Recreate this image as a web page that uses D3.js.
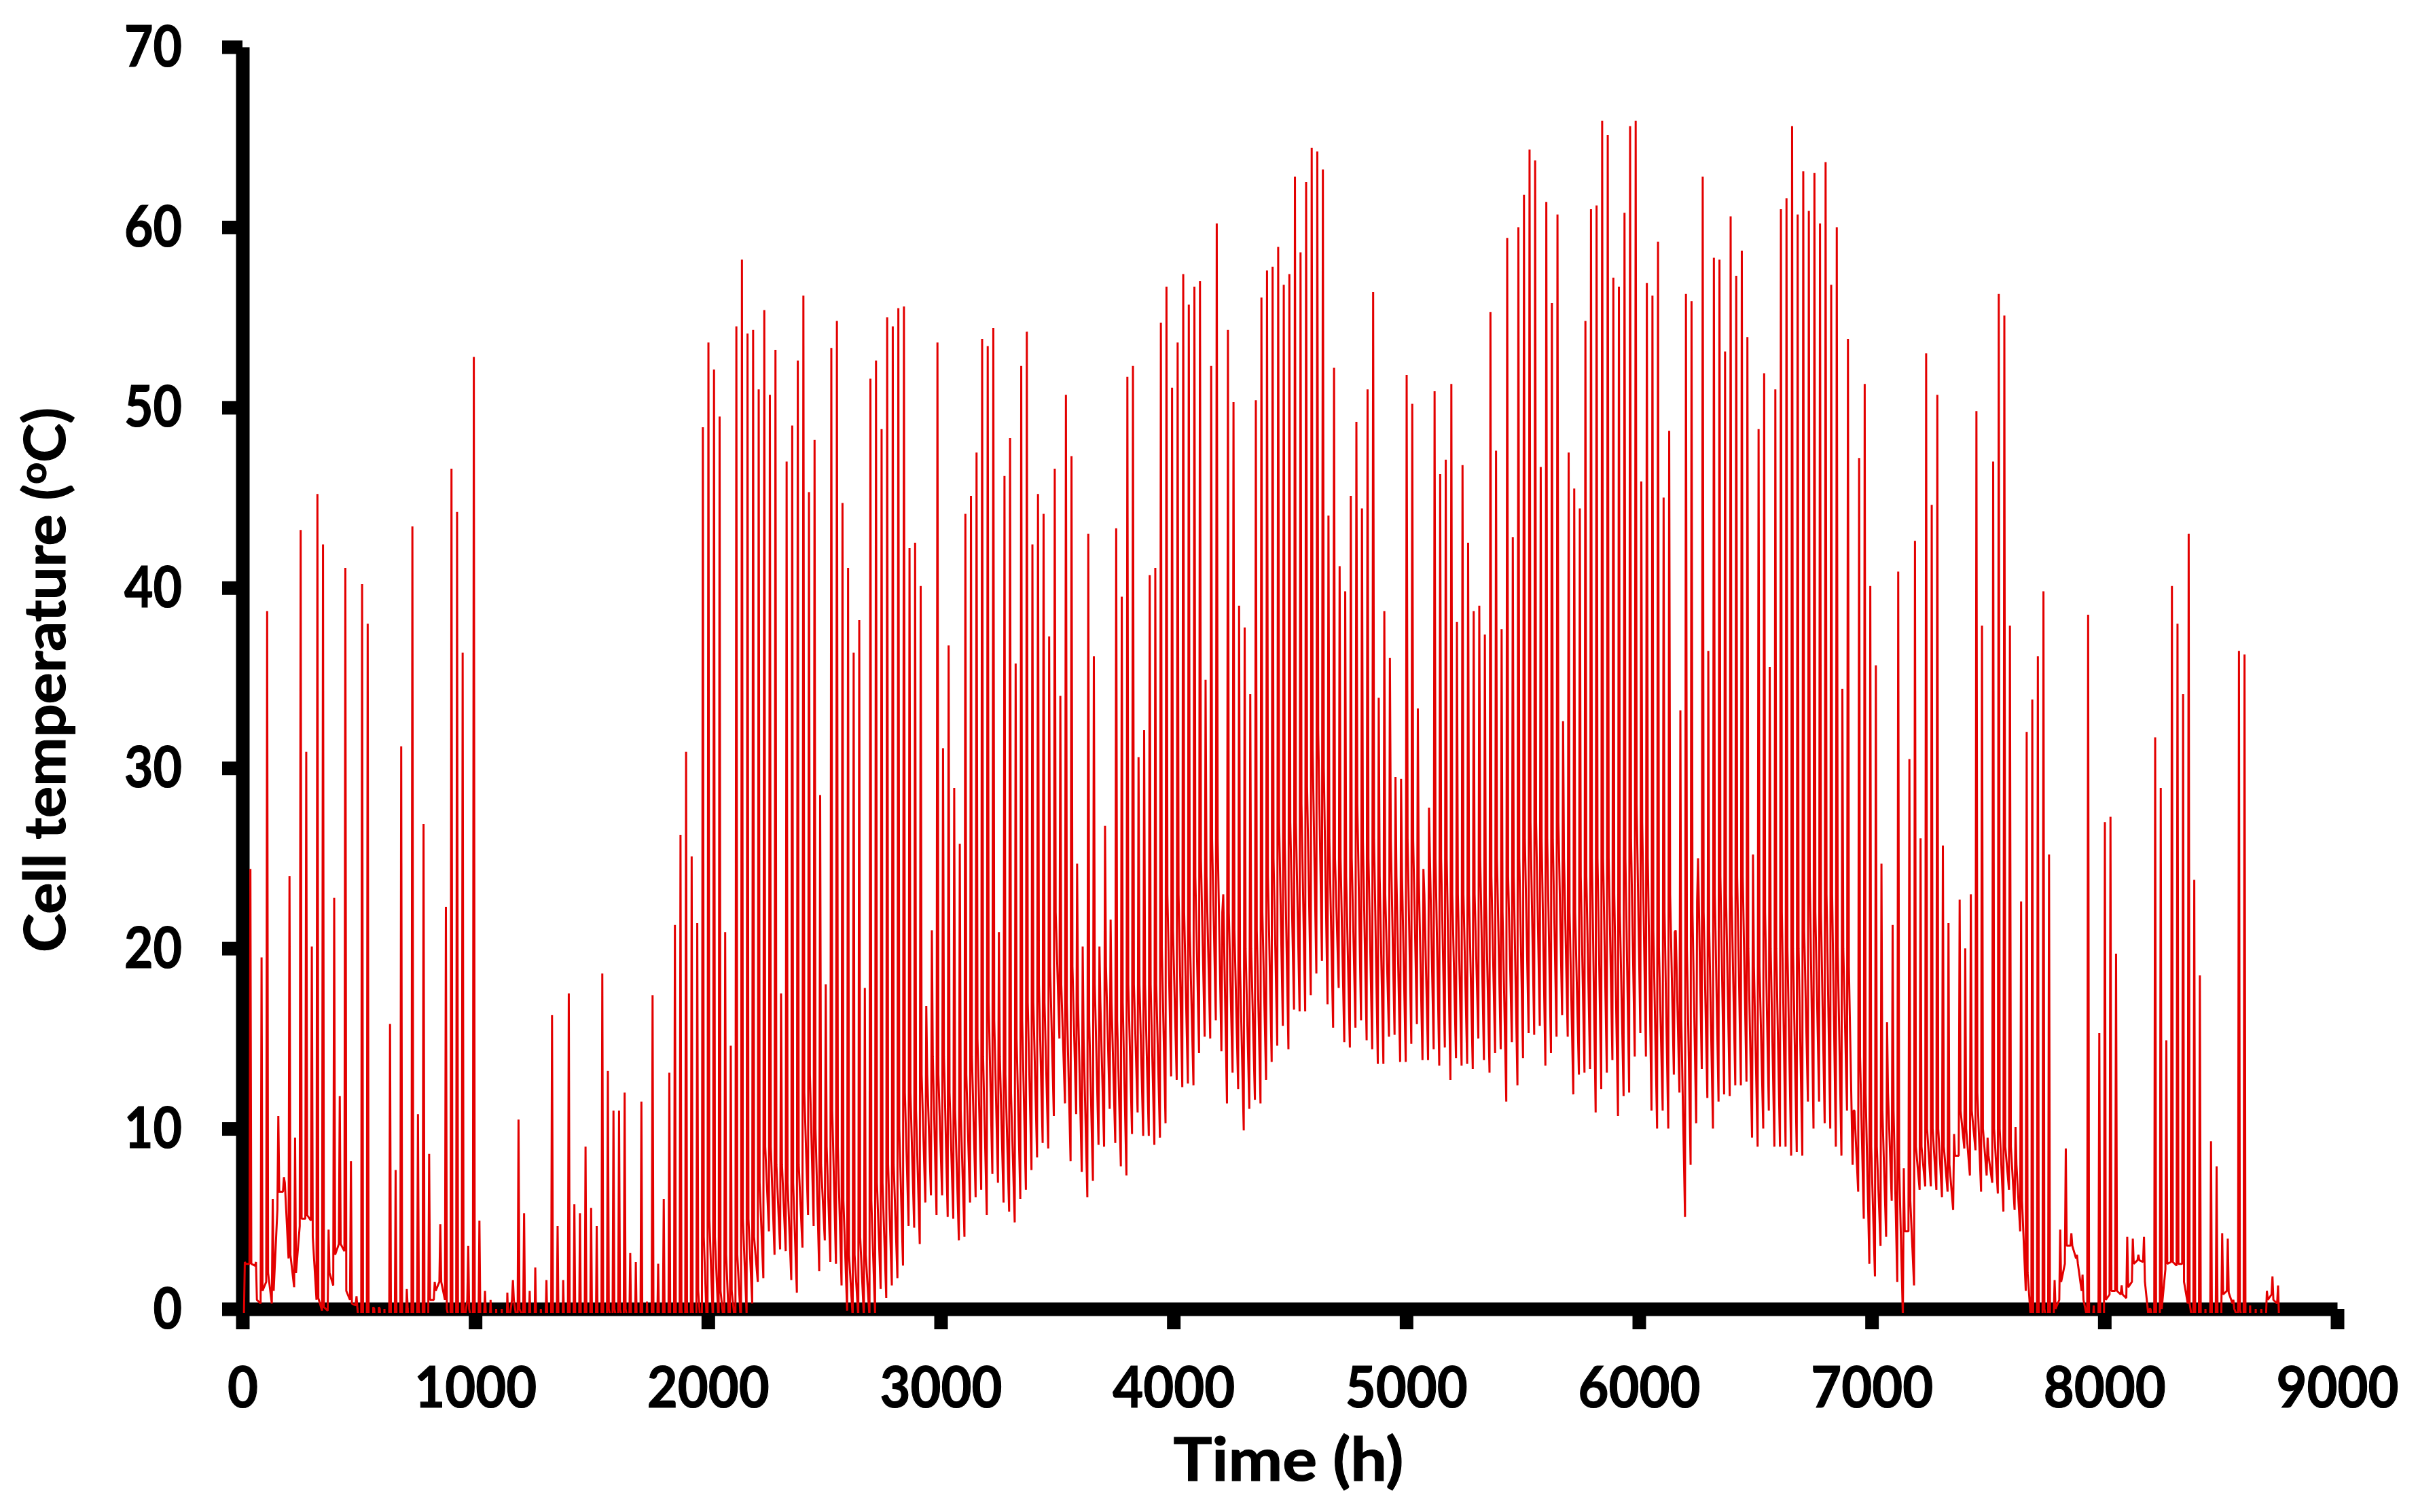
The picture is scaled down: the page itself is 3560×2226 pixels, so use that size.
<!DOCTYPE html>
<html>
<head>
<meta charset="utf-8">
<style>
html,body{margin:0;padding:0;background:#fff}
svg{display:block}
text{font-family:Lato,"Open Sans",sans-serif;font-weight:700;fill:#000;stroke:#000;stroke-width:1.2px}
</style>
<script src="https://cdn.jsdelivr.net/npm/d3@7/dist/d3.min.js"></script>
</head>
<body>
<svg id="chart" width="3560" height="2226"></svg>
<script>
// Daily maximum cell temperature, one value per day (day 0 = hour 0)
const dailyPeaks = [
2.6,24.4,2.6,19.5,38.7,6.1,10.7,7.3,24,9.5,
43.2,30.9,20.1,45.2,42.4,4.4,22.8,11.8,41.1,8.2,
.7,40.2,38,.1,.1,0,15.8,7.7,31.2,1.1,
43.4,10.8,26.9,8.6,1.5,4.7,22.3,46.6,44.2,36.4,
3.5,52.8,4.9,1,.5,0,0,.9,1.6,10.5,
5.3,1,2.3,0,1.6,16.3,4.6,1.6,17.5,5.8,
5.3,9,5.6,4.6,18.6,13.2,11,11,12,3.1,
2.6,11.5,.4,17.4,2.5,6.1,13.1,21.3,26.3,30.9,
25.1,21.4,48.9,53.6,52.1,49.5,20.9,14.6,54.5,58.2,
54.1,54.3,51,55.4,50.7,53.2,17.5,47,49,52.6,
56.2,45.3,48.2,28.5,18,53.3,54.8,44.7,41.1,36.4,
38.2,17.8,51.6,52.6,48.8,55,54.5,55.5,55.6,42.2,
42.5,40.1,16.8,21,53.6,31.1,36.8,28.9,25.8,44.1,
45.1,47.5,53.8,53.4,54.4,20.9,46.2,48.3,35.8,52.3,
54.2,42.4,45.2,44.1,37.3,46.6,34,50.7,47.3,24.7,
20.1,43,36.2,20.1,26.8,21.6,43.3,39.5,51.7,52.3,
30.6,32.1,40.7,41.1,54.7,56.7,51.1,53.6,57.4,55.7,
56.7,57,34.9,52.3,60.2,22,54.3,50.3,39,37.8,
34.1,50.4,56.1,57.6,57.8,58.9,56.8,57.4,62.8,58.6,
62.5,64.4,64.2,63.2,44,52.2,41.2,39.8,45.1,49.2,
44.4,51,56.4,33.9,38.7,36.1,29.5,29.4,51.8,50.2,
33.3,24.4,27.8,50.9,46.3,47.1,51.3,38.1,46.8,42.5,
38.7,39,37.4,55.3,47.6,37.7,59.4,42.8,60,61.8,
64.3,63.7,46.7,61.4,55.8,60.7,32.6,47.5,45.5,44.4,
54.8,61,61.2,65.9,65.1,57.2,56.7,60.8,65.6,65.9,
45.9,56.9,56.2,59.2,45,48.7,20.9,33.2,56.3,55.9,
22.6,62.8,36.5,58.3,58.2,53.1,60.6,57.3,58.7,53.9,
25.2,48.8,51.9,35.6,51,61,61.6,65.6,60.7,63.1,
60.9,63,60.2,63.6,56.8,60,34.4,53.8,11,47.2,
51.3,40.1,35.7,24.7,15.9,21.3,40.9,7.8,30.5,42.6,
26.1,53,44.6,50.7,25.7,21.4,9.7,22.7,20,23,
49.8,37.9,9.5,47,56.3,55.1,37.9,10.1,22.6,32,
33.8,36.2,39.8,25.2,1.6,4.4,8.9,4.2,3,1.9,
38.5,.2,15.3,27,27.3,19.7,1.3,4,3.9,3,
4,0,31.7,28.9,14.9,40.1,38,34.1,43,23.8,
18.5,0,9.3,7.9,4.2,3.9,.5,36.5,36.3,.2,
0,0,1,1.8,1.3];

// Pre-dawn minimum of each day, plus one closing value. Below zero the trace leaves the plot.
const dawnLows = [
-.5,2.5,2.4,.3,1.5,.3,5.5,6.5,2.8,1.2,
4.6,5,4.9,.5,-.1,-.1,1.3,3.6,3.2,.5,
.2,-2,-3,-4,-4,-5,-3,-2,-2,-1,
-2,-1,-2,-1,.5,1.5,.5,-1,-2,-2,
.5,-1,-1,-.5,-1,-3,-4,-2,.5,-1,
-.5,-1,-2,-3,-1,-2,-1,-2,-2,-2,
-2,-2,-1,-2,-2,-1,-1,-1,-1,-1,
-2,-1,-2,-2,-1,-1,-2,-2,-2,-3,
-3,-2,-2,-2,-1,-1,-1,-2,-1,-1,
-.3,.3,1.5,1.7,4.3,3,3.3,3.2,1.6,.9,
3.4,5.2,4.6,2.1,3.8,2.6,2.5,1.3,-.1,-.5,
-.5,-.5,-.5,-.3,1.1,.6,1.3,1.7,2.4,4.6,
4.5,3.6,5.9,6.3,5.2,6.3,5.1,5,3.8,4,
5.9,6.2,6.6,5.2,7.5,7,5.9,5.4,4.8,6.1,
6.6,7.7,8.4,9.2,8.9,10.7,15,11.4,8.2,10.8,
7.6,6.2,7.1,9.1,9,11.1,9.2,7.9,7.4,9.7,
10.9,9.6,9.6,9.1,9.5,10.3,12.9,12.7,12.3,12.5,
12.4,14.2,15.1,15,16,14.3,11.4,13.1,12.2,9.9,
11.1,11.6,11.4,12.7,13.7,14.6,15.7,14.4,16.6,16.5,
16.5,17.4,18.6,19.3,16.9,15.6,17.8,14.8,14.5,15.6,
16,14.9,14.4,13.6,13.6,15.1,15.2,13.7,13.7,14.7,
15.8,13.8,13.8,14.4,13.5,14.5,12.7,13.9,13.5,13.6,
13.3,15,13.8,13.1,14.2,14.4,11.5,14.8,12.4,13.9,
15.3,15.2,15.7,13.5,14.2,15.1,16.3,15.1,11.9,13,
13.1,13.3,10.9,12.2,13.1,13.8,10.7,11.8,12,14,
15.3,14,11,10,11,10,13,12,5.1,8,
10.3,13.3,11.7,10,11.5,11.9,11.8,12.4,12.4,12.6,
9.5,9,10,11,9,9,9,8.5,8.7,8.5,
11.5,10,11.5,10.3,10,9,8.5,11,8,6.5,
5,2.5,1.8,3.5,4,6,1.5,-.5,4.3,1.3,
6.6,6.8,6.8,6.6,6.2,6.5,5.5,8.5,8.9,7.4,
8.8,6.5,7.4,7,6.4,5.4,6.6,5.5,4.3,1,
-1,-2,-2,-1,-.5,.5,2.5,3.5,2.8,1,
-.5,-1,-2,-2,.8,1,.8,.6,1.5,2.7,
2.6,-.5,-1,-2,2.2,2.6,2.4,2.5,.3,-1,
-1,-2,-2,-1,-.5,1,.3,-.5,-1,-2,
-3,-3,-.5,.8,.3,-1];

// Level the trace drops to right after each day's peak
const duskLevels = [
2.5,2.5,.5,1,2,1,6.5,7,3,2,
5,5.2,4,.6,.1,2,3,3.6,1,.3,
0,-1,-1,0,0,-3,-1,-1,-1,0,
-1,0,-1,.5,1,1.5,0,-1,-1,-1,
0,-1,-.5,-.5,-1,-2,-2,-1,.5,0,
-.5,-1,-1,-1,-1,-1,-1,-1,-1,-1,
-1,-1,-1,-1,-1,0,0,0,0,-1,
-1,-1,-1,-1,-1,-1,-1,-1,0,0,
0,1,4,5,4,1,3,1,3,5,
5,4,7,9,9,8,8,7,7,8,
12,13,10,8,9,11,9,6,3,3,
4,3,6,7,7,8,8,10,12,12,
11,13,13,14,13,14,12,11,11,13,
14,15,14,17,16,14,13,12,15,16,
17,17,18,17,19,22,18,17,19,17,
15,16,18,17,19,17,16,17,18,18,
18,18,18,18,20,23,21,23,22,21,
24,25,24,26,26,23,22,21,19,20,
20,21,22,24,25,27,26,27,27,28,
29,31,32,30,26,25,25,24,25,28,
26,25,26,24,23,26,24,24,26,26,
24,23,25,25,25,25,23,23,23,23,
23,25,23,24,25,22,24,24,25,26,
27,27,26,26,26,27,25,22,22,24,
24,25,25,25,25,23,22,25,26,28,
27,25,21,20,22,23,21,16,20,22,
25,22,21,23,24,23,23,24,24,20,
19,19,22,20,20,22,20,20,20,21,
24,22,22,23,23,20,20,19,11,14,
12,9,9,11,12,11,8,4.3,6,9,
9,10,10,10,9,8,8.5,11,10,11,
12,10,8.5,10,10,9,9,8,6,2,
-1,-1,0,-.5,0,1.5,3.5,3.5,2.5,.5,
-.5,-1,-1,.5,1,1,.8,1.2,2.5,2.7,
1.5,0,-1,0,2.5,2.6,2.5,1.5,.3,-.5,
-1,-2,-1,-.5,.8,.9,0,0,-1,-2,
-2,-2,.5,.5,-.5];

const xTicks = [0,1000,2000,3000,4000,5000,6000,7000,8000,9000];
const yTicks = [0,10,20,30,40,50,60,70];
const xTitle = "Time (h)";
const yTitleParts = ["Cell temperature (", "o", "C)"];

if (dailyPeaks.length !== 365 || duskLevels.length !== 365 || dawnLows.length !== 366) {
  throw new Error("lengths " + dailyPeaks.length + " " + duskLevels.length + " " + dawnLows.length);
}

const HOURS_DAWN = 6, HOURS_PEAK = 10, HOURS_DUSK = 14;
const trace = dailyPeaks.flatMap((p, d) => [
  {h: d * 24 + HOURS_DAWN, t: dawnLows[d]},
  {h: d * 24 + HOURS_PEAK, t: p},
  {h: d * 24 + HOURS_DUSK, t: duskLevels[d]}
]);
trace.push({h: 8760, t: dawnLows[365]});

const x = d3.scaleLinear().domain([0, 9000]).range([357, 3441]);
const y = d3.scaleLinear().domain([0, 70]).range([1927, 69]);
const svg = d3.select("#chart");

svg.append("defs").append("clipPath").attr("id", "plot")
  .append("rect").attr("x", 357).attr("y", 60).attr("width", 3084).attr("height", 1873);

const gy = svg.append("g").attr("transform", "translate(357,0)")
  .call(d3.axisLeft(y).tickValues(yTicks).tickFormat(d3.format("d")).tickSize(30).tickSizeOuter(0));
const gx = svg.append("g").attr("transform", "translate(0,1927)")
  .call(d3.axisBottom(x).tickValues(xTicks).tickFormat(d3.format("d")).tickSize(30).tickSizeOuter(0));

[gy, gx].forEach(g => {
  g.select(".domain").attr("stroke", "#000").attr("stroke-width", 20);
  g.selectAll(".tick line").attr("stroke", "#000").attr("stroke-width", 20);
});
gy.selectAll(".tick text")
  .attr("x", -89).attr("y", 28).attr("dy", 0).attr("text-anchor", "end")
  .attr("font-size", 84)
  .attr("textLength", d => String(d).length * 42.5).attr("lengthAdjust", "spacingAndGlyphs");
gx.selectAll(".tick text")
  .attr("y", 145).attr("dy", 0).attr("text-anchor", "middle")
  .attr("font-size", 84)
  .attr("textLength", d => String(d).length * 45).attr("lengthAdjust", "spacingAndGlyphs");
svg.selectAll(".tick text").style("font-family", 'Lato,"Open Sans",sans-serif').style("font-weight", 700);

const line = d3.line().x(d => x(d.h)).y(d => y(d.t));
svg.append("path").datum(trace)
  .attr("d", line)
  .attr("fill", "none")
  .attr("stroke", "#e30000")
  .attr("stroke-width", 3)
  .attr("stroke-linejoin", "bevel")
  .attr("clip-path", "url(#plot)");

svg.append("text").attr("x", 1897).attr("y", 2180).attr("text-anchor", "middle")
  .attr("font-size", 88).attr("textLength", 339).attr("lengthAdjust", "spacingAndGlyphs")
  .text(xTitle);

const yt = svg.append("text").attr("transform", "translate(96,1001) rotate(-90)")
  .attr("text-anchor", "middle").attr("font-size", 84)
  .attr("textLength", 802).attr("lengthAdjust", "spacingAndGlyphs");
yt.append("tspan").text(yTitleParts[0]);
yt.append("tspan").attr("font-size", 54).attr("dy", -28).text(yTitleParts[1]);
yt.append("tspan").attr("dy", 28).text(yTitleParts[2]);
</script>
</body>
</html>
